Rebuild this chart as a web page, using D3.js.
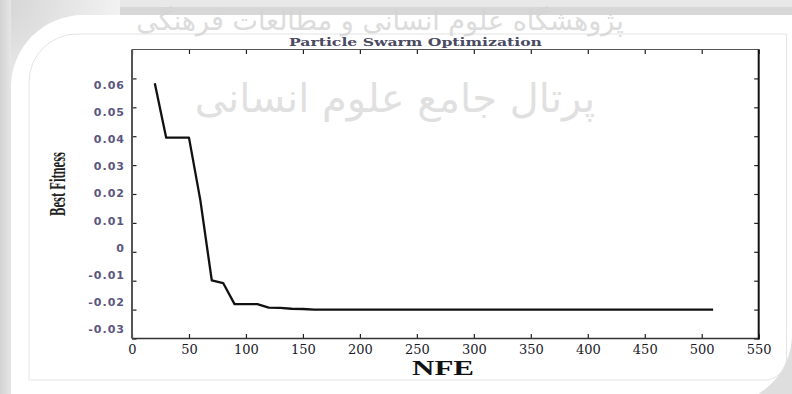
<!DOCTYPE html>
<html>
<head>
<meta charset="utf-8">
<script src="https://cdn.jsdelivr.net/npm/d3@7/dist/d3.min.js"></script>
<style>
  html, body { margin: 0; padding: 0; background: #ffffff; }
  svg { display: block; }
</style>
</head>
<body>
<script>
// Convergence history of the PSO run: best fitness after each batch of evaluations
const nfe = [20, 30, 40, 50, 60, 70, 80, 90, 100, 110, 120, 130, 140, 150, 160,
  170, 180, 190, 200, 210, 220, 230, 240, 250, 260, 270, 280, 290, 300, 310,
  320, 330, 340, 350, 360, 370, 380, 390, 400, 410, 420, 430, 440, 450, 460,
  470, 480, 490, 500, 510];
const bestFitness = [0.0583, 0.0395, 0.0395, 0.0395, 0.0178, -0.0099, -0.0108, -0.0181, -0.0181, -0.0181,
  -0.0193, -0.0194, -0.0197, -0.0198, -0.0200, -0.0200, -0.0200, -0.0200, -0.0200, -0.0200,
  -0.0200, -0.0200, -0.0200, -0.0200, -0.0200, -0.0200, -0.0200, -0.0200, -0.0200, -0.0200,
  -0.0200, -0.0200, -0.0200, -0.0200, -0.0200, -0.0200, -0.0200, -0.0200, -0.0200, -0.0200,
  -0.0200, -0.0200, -0.0200, -0.0200, -0.0200, -0.0200, -0.0200, -0.0200, -0.0200, -0.0200];
const xTicks = [0, 50, 100, 150, 200, 250, 300, 350, 400, 450, 500, 550];
const yTicks = [-0.03, -0.02, -0.01, 0, 0.01, 0.02, 0.03, 0.04, 0.05, 0.06];

const chartTitle = "Particle Swarm Optimization";
const xLabel = "NFE";
const yLabel = "Best Fitness";
const watermarkTop = "پژوهشگاه علوم انسانی و مطالعات فرهنگی";
const watermarkMid = "پرتال جامع علوم انسانی";

const W = 792, H = 394;
const svg = d3.select("body").append("svg").attr("width", W).attr("height", H);

// ---- page frame: grey surround, white rounded card, thin inner border ----
const defs = svg.append("defs");
const lg = defs.append("linearGradient").attr("id", "leftShade").attr("x1", 0).attr("x2", 1);
lg.append("stop").attr("offset", "0%").attr("stop-color", "#d2d2d2");
lg.append("stop").attr("offset", "100%").attr("stop-color", "#e6e6e6");
const rg = defs.append("radialGradient").attr("id", "cornerShade")
  .attr("cx", 0).attr("cy", 0).attr("r", 1);
rg.append("stop").attr("offset", "0%").attr("stop-color", "#d4d4d4");
rg.append("stop").attr("offset", "100%").attr("stop-color", "#f2f2f2");

svg.append("rect").attr("width", W).attr("height", H).attr("fill", "#ffffff");
svg.append("rect").attr("x", 0).attr("y", 0).attr("width", W).attr("height", 8).attr("fill", "#e8e8e8");
svg.append("rect").attr("x", 0).attr("y", 7).attr("width", W).attr("height", 9).attr("fill", "#d7d7d7");
svg.append("rect").attr("x", 0).attr("y", 0).attr("width", 120).attr("height", 120).attr("fill", "url(#cornerShade)");
svg.append("rect").attr("x", 0).attr("y", 0).attr("width", 11).attr("height", H).attr("fill", "url(#leftShade)");
// bottom-right grey corner
svg.append("rect").attr("x", 720).attr("y", 320).attr("width", 72).attr("height", 74).attr("fill", "#dedede");

// white card with rounded top-left and bottom-right corners
const cx0 = 11, cy0 = 15, cx1 = 792, cy1 = 404, rTL = 72, rBR = 70;
svg.append("path")
  .attr("d", `M${cx0},${cy0 + rTL} A${rTL},${rTL} 0 0 1 ${cx0 + rTL},${cy0}
    L${cx1 + 10},${cy0} L${cx1 + 10},${cy1 - rBR} L${cx1},${cy1 - rBR}
    A${rBR},${rBR} 0 0 1 ${cx1 - rBR},${cy1} L${cx0},${cy1} Z`)
  .attr("fill", "#ffffff");

// thin inner border
const bx0 = 29, by0 = 34, bx1 = 786.5, by1 = 380, rI = 48, rI2 = 22;
svg.append("path")
  .attr("d", `M${bx0},${by0 + rI} A${rI},${rI} 0 0 1 ${bx0 + rI},${by0}
    L${bx1},${by0} L${bx1},${by1 - rI2} A${rI2},${rI2} 0 0 1 ${bx1 - rI2},${by1}
    L${bx0},${by1} Z`)
  .attr("fill", "none").attr("stroke", "#e4e4e4").attr("stroke-width", 1);

// ---- watermark ----
svg.append("text")
  .attr("x", 380).attr("y", 30)
  .attr("text-anchor", "middle")
  .attr("font-family", "DejaVu Sans")
  .attr("font-size", 27)
  .attr("fill", "#d4d4d4").attr("opacity", 0.8)
  .text(watermarkTop);
svg.append("text")
  .attr("x", 395).attr("y", 112)
  .attr("text-anchor", "middle")
  .attr("font-family", "DejaVu Sans")
  .attr("font-size", 40)
  .attr("fill", "#d6d6d6").attr("opacity", 0.75)
  .text(watermarkMid);

// ---- chart ----
const plot = { left: 132, right: 758.7, top: 49.5, bottom: 338.5 };
const x = d3.scaleLinear().domain([0, 550]).range([plot.left, plot.right]);
const y = d3.scaleLinear().domain([-0.03, 0.07]).range([plot.bottom, plot.top]);
// tick labels on the value axis sit on a slightly tighter pitch than the ticks
const yLabelPos = d3.scaleLinear().domain([-0.03, 0.06]).range([329, 85]);

const fmtY = d => d === 0 ? "0" : d.toFixed(2);

const gBottom = svg.append("g").attr("transform", `translate(0,${plot.bottom})`)
  .call(d3.axisBottom(x).tickValues(xTicks).tickSize(-4.5).tickPadding(6));
gBottom.selectAll("text")
  .attr("font-family", "DejaVu Serif").attr("font-size", 13)
  .attr("fill", "#1a1a2a").attr("y", 6);

const gTop = svg.append("g").attr("transform", `translate(0,${plot.top})`)
  .call(d3.axisTop(x).tickValues(xTicks).tickSize(-4.5).tickFormat(""));

const gLeft = svg.append("g").attr("transform", `translate(${plot.left},0)`)
  .call(d3.axisLeft(y).tickValues(yTicks).tickSize(-4.5).tickPadding(7).tickFormat(fmtY));
gLeft.selectAll("text")
  .attr("font-family", "DejaVu Sans").attr("font-weight", "bold").attr("font-size", 11)
  .attr("letter-spacing", 1)
  .attr("fill", "#5c5680")
  .attr("y", d => yLabelPos(d) - y(d));

const gRight = svg.append("g").attr("transform", `translate(${plot.right},0)`)
  .call(d3.axisRight(y).tickValues(yTicks).tickSize(-4.5).tickFormat(""));

[gBottom, gTop, gLeft, gRight].forEach(g => {
  g.select(".domain").remove();
  g.selectAll(".tick line").attr("stroke", "#222").attr("stroke-width", 1.2);
});

// plot frame
svg.append("line").attr("x1", plot.left).attr("x2", plot.right).attr("y1", plot.top).attr("y2", plot.top)
  .attr("stroke", "#555").attr("stroke-width", 1.2);
svg.append("line").attr("x1", plot.left).attr("x2", plot.right + 1).attr("y1", plot.bottom).attr("y2", plot.bottom)
  .attr("stroke", "#333").attr("stroke-width", 1.6);
svg.append("line").attr("x1", plot.left).attr("x2", plot.left).attr("y1", plot.top).attr("y2", plot.bottom)
  .attr("stroke", "#555").attr("stroke-width", 2);
svg.append("line").attr("x1", plot.right).attr("x2", plot.right).attr("y1", plot.top).attr("y2", plot.bottom + 1)
  .attr("stroke", "#111").attr("stroke-width", 2);

// convergence curve
const line = d3.line().x((d, i) => x(nfe[i])).y(d => y(d));
svg.append("path")
  .datum(bestFitness)
  .attr("d", line)
  .attr("fill", "none")
  .attr("stroke", "#111")
  .attr("stroke-width", 2.3)
  .attr("stroke-linejoin", "round");

// titles
svg.append("text")
  .attr("x", 415.5).attr("y", 45.5)
  .attr("text-anchor", "middle")
  .attr("font-family", "DejaVu Serif").attr("font-weight", "bold").attr("font-size", 10.5)
  .attr("fill", "#4a4a62")
  .attr("textLength", 253).attr("lengthAdjust", "spacingAndGlyphs")
  .text(chartTitle);

svg.append("text")
  .attr("x", 443).attr("y", 374.5)
  .attr("text-anchor", "middle")
  .attr("font-family", "Liberation Serif").attr("font-weight", "bold").attr("font-size", 21)
  .attr("fill", "#111")
  .attr("textLength", 62).attr("lengthAdjust", "spacingAndGlyphs")
  .text(xLabel);

svg.append("text")
  .attr("transform", "translate(64.5,184) rotate(-90)")
  .attr("text-anchor", "middle")
  .attr("font-family", "Liberation Serif").attr("font-weight", "bold").attr("font-size", 24)
  .attr("fill", "#222")
  .attr("textLength", 64).attr("lengthAdjust", "spacingAndGlyphs")
  .text(yLabel);
</script>
</body>
</html>
